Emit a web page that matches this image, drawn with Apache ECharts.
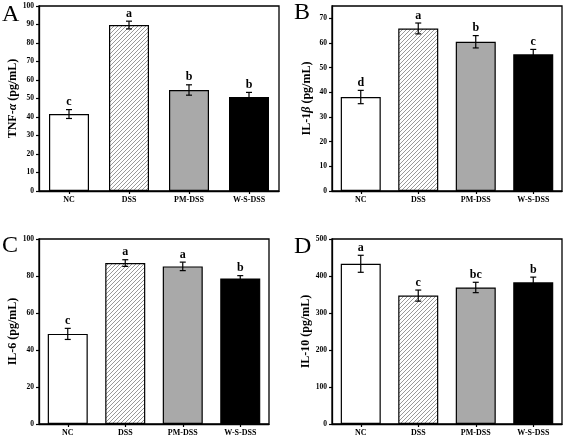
<!DOCTYPE html>
<html>
<head>
<meta charset="utf-8">
<script src="https://cdn.jsdelivr.net/npm/echarts@6/dist/echarts.min.js"></script>
<style>
html,body{margin:0;padding:0;background:#fff;}
#main{width:567px;height:439px;}
</style>
</head>
<body>
<div id="main"></div>
<script>
// ---- data ----
var categories = ['NC', 'DSS', 'PM-DSS', 'W-S-DSS'];

var tnfMean = [41.6, 89.7, 54.6, 50.8];
var tnfErr  = [2.4, 2.1, 2.8, 2.5];
var tnfSig  = ['c', 'a', 'b', 'b'];

var il1bMean = [38.1, 65.9, 60.5, 55.4];
var il1bErr  = [2.7, 2.2, 2.5, 2.0];
var il1bSig  = ['d', 'a', 'b', 'c'];

var il6Mean = [48.7, 87.0, 85.2, 78.7];
var il6Err  = [3.0, 1.8, 2.3, 1.5];
var il6Sig  = ['c', 'a', 'a', 'b'];

var il10Mean = [433, 347, 369, 383];
var il10Err  = [23, 15, 14, 14];
var il10Sig  = ['a', 'c', 'bc', 'b'];

var ticksA = [0, 10, 20, 30, 40, 50, 60, 70, 80, 90, 100];
var ticksB = [0, 10, 20, 30, 40, 50, 60, 70];
var ticksC = [0, 20, 40, 60, 80, 100];
var ticksD = [0, 100, 200, 300, 400, 500];

// ---- styles ----
var SERIF = '"Liberation Serif", "Times New Roman", serif';

function makeHatch() {
  var s = 4;
  var c = document.createElement('canvas');
  c.width = s; c.height = s;
  var g = c.getContext('2d');
  g.fillStyle = '#ffffff';
  g.fillRect(0, 0, s, s);
  g.strokeStyle = '#999999';
  g.lineWidth = 1;
  g.beginPath();
  g.moveTo(-1, s + 1); g.lineTo(s + 1, -1);
  g.moveTo(-1, 1); g.lineTo(1, -1);
  g.moveTo(s - 1, s + 1); g.lineTo(s + 1, s - 1);
  g.stroke();
  return c;
}
var fills = ['#ffffff', { image: makeHatch(), repeat: 'repeat' }, '#a9a9a9', '#000000'];

var grids = [
  { left: 39, top: 6, width: 240, height: 185 },
  { left: 332, top: 6, width: 230, height: 185 },
  { left: 39, top: 239, width: 230, height: 185 },
  { left: 332, top: 239, width: 230, height: 185 }
];

var panels = [
  { mean: tnfMean, err: tnfErr, sig: tnfSig, max: 100, interval: 10, ticks: ticksA,
    name: 'TNF-{i|α} (pg/mL)', letter: 'A' },
  { mean: il1bMean, err: il1bErr, sig: il1bSig, max: 75, interval: 10, ticks: ticksB,
    name: 'IL-1{i|β} (pg/mL)', letter: 'B' },
  { mean: il6Mean, err: il6Err, sig: il6Sig, max: 100, interval: 20, ticks: ticksC,
    name: 'IL-6 (pg/mL)', letter: 'C' },
  { mean: il10Mean, err: il10Err, sig: il10Sig, max: 500, interval: 100, ticks: ticksD,
    name: 'IL-10 (pg/mL)', letter: 'D' }
];

var letterPos = [[2, 3], [294, 1], [2, 234], [294, 235]];

var option = {
  backgroundColor: '#ffffff',
  animation: false,
  grid: [], xAxis: [], yAxis: [], series: [], graphic: []
};

panels.forEach(function (p, k) {
  var g = grids[k];
  option.grid.push({
    left: g.left, top: g.top, width: g.width, height: g.height,
    show: true, borderColor: '#000', borderWidth: 1.3, backgroundColor: 'transparent'
  });
  option.xAxis.push({
    type: 'category', gridIndex: k, data: categories,
    axisLine: { lineStyle: { color: '#000', width: 1.3 } },
    axisTick: { show: true, alignWithLabel: true, length: 3, lineStyle: { color: '#000', width: 1.2 } },
    axisLabel: { color: '#000', fontFamily: SERIF, fontWeight: 'bold', fontSize: 8, margin: 5 }
  });
  option.yAxis.push({
    type: 'value', gridIndex: k, min: 0, max: p.max, interval: p.interval,
    name: p.name, nameLocation: 'middle', nameGap: 19,
    nameTextStyle: { color: '#000', fontFamily: SERIF, fontWeight: 'bold', fontSize: 12,
      rich: { i: { fontFamily: SERIF, fontWeight: 'bold', fontStyle: 'italic', fontSize: 12, color: '#000' } } },
    splitLine: { show: false },
    axisLine: { show: true, lineStyle: { color: '#000', width: 1.3 } },
    axisTick: { show: true, length: 3, customValues: p.ticks, lineStyle: { color: '#000', width: 1.2 } },
    axisLabel: { color: '#000', fontFamily: SERIF, fontWeight: 'bold', fontSize: 7.5, margin: 5,
      customValues: p.ticks }
  });
  option.series.push({
    type: 'bar', xAxisIndex: k, yAxisIndex: k, barWidth: 40,
    data: p.mean.map(function (v, i) {
      return { value: v, itemStyle: { color: fills[i], borderColor: '#000', borderWidth: 1.2 } };
    })
  });
  option.series.push({
    type: 'custom', xAxisIndex: k, yAxisIndex: k, z: 10,
    data: p.mean.map(function (v, i) { return [i, v, p.err[i], p.sig[i]]; }),
    encode: { x: 0, y: 1 },
    renderItem: function (params, api) {
      var x = api.value(0), m = api.value(1), e = api.value(2);
      var s = p.sig[params.dataIndex];
      var top = api.coord([x, m + e]);
      var bot = api.coord([x, m - e]);
      var cx = top[0], hw = 3;
      var ls = { stroke: '#000', lineWidth: 1.2 };
      return {
        type: 'group',
        children: [
          { type: 'line', shape: { x1: cx, y1: top[1], x2: cx, y2: bot[1] }, style: ls },
          { type: 'line', shape: { x1: cx - hw, y1: top[1], x2: cx + hw, y2: top[1] }, style: ls },
          { type: 'line', shape: { x1: cx - hw, y1: bot[1], x2: cx + hw, y2: bot[1] }, style: ls },
          { type: 'text', style: { text: s, x: cx, y: top[1] - 1.5, align: 'center', verticalAlign: 'bottom',
              font: 'bold 12px ' + SERIF, fill: '#000' } }
        ]
      };
    }
  });
  option.graphic.push({
    type: 'text', left: letterPos[k][0], top: letterPos[k][1],
    style: { text: p.letter, font: '24px ' + SERIF, fill: '#000' }
  });
});

var chart = echarts.init(document.getElementById('main'), null, { renderer: 'canvas' });
chart.setOption(option);
</script>
</body>
</html>
